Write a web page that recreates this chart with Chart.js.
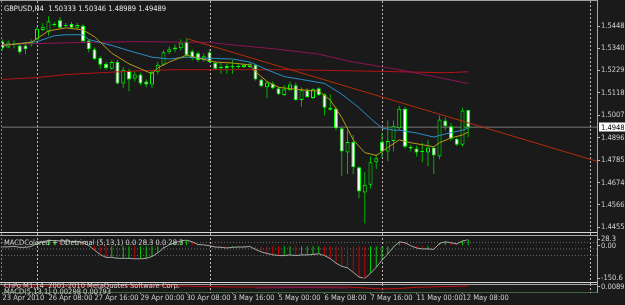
<!DOCTYPE html>
<html><head><meta charset="utf-8">
<script src="https://cdn.jsdelivr.net/npm/chart.js@4.4.1/dist/chart.umd.min.js"></script>
<style>
html,body{margin:0;padding:0;background:#1a1a1a;width:625px;height:305px;overflow:hidden;position:relative}
canvas{position:absolute;left:0}
#c1{top:0}#c2{top:234px}#c3{top:278px}
</style></head><body>
<canvas id="c1" width="625" height="234" style="width:625px;height:234px"></canvas>
<canvas id="c2" width="625" height="50" style="width:625px;height:50px"></canvas>
<canvas id="c3" width="625" height="27" style="width:625px;height:27px"></canvas>
<script>
// ---------- DATA (H4 bars, index 0 = 23 Apr 2010 00:00) ----------
const symbolName = 'GBPUSD,H4';
const open = [1.5372,1.5343,1.5363,1.5353,1.5353,1.5358,1.5382,1.5430,1.5421,1.5459,
 1.5478,1.5454,1.5459,1.5440,1.5449,1.5377,1.5334,1.5291,1.5262,1.5238,
 1.5271,1.5165,1.5228,1.5189,1.5209,1.5175,1.5160,1.5223,1.5257,1.5319,
 1.5334,1.5339,1.5372,1.5324,1.5315,1.5281,1.5319,1.5266,1.5247,1.5252,
 1.5247,1.5252,1.5247,1.5247,1.5257,1.5185,1.5146,1.5165,1.5141,1.5108,
 1.5132,1.5156,1.5083,1.5132,1.5093,1.5141,1.5112,1.5045,1.5040,1.4944,
 1.4823,1.4876,1.4751,1.4626,1.4664,1.4775,1.4876,1.4828,1.4881,1.4944,
 1.5040,1.4852,1.4843,1.4828,1.4823,1.4848,1.4804,1.4982,1.4953,1.4891,
 1.4862,1.50333];
const high = [1.5382,1.5377,1.5377,1.5363,1.5363,1.5382,1.5445,1.5464,1.5498,1.5469,
 1.5493,1.5464,1.5469,1.5464,1.5459,1.5382,1.5343,1.5300,1.5271,1.5281,
 1.5281,1.5247,1.5238,1.5223,1.5218,1.5185,1.5233,1.5271,1.5329,1.5348,
 1.5358,1.5382,1.5387,1.5334,1.5324,1.5315,1.5334,1.5276,1.5271,1.5262,
 1.5281,1.5262,1.5262,1.5271,1.5262,1.5189,1.5175,1.5175,1.5151,1.5156,
 1.5175,1.5170,1.5146,1.5141,1.5141,1.5146,1.5117,1.5112,1.5050,1.4953,
 1.4934,1.4910,1.4756,1.4727,1.4804,1.4814,1.4920,1.4982,1.4982,1.5055,
 1.5050,1.4862,1.4857,1.4872,1.4886,1.4852,1.5006,1.4997,1.4968,1.4896,
 1.5045,1.50346];
const low = [1.5329,1.5339,1.5339,1.5310,1.5310,1.5348,1.5377,1.5425,1.5401,1.5445,
 1.5435,1.5440,1.5435,1.5435,1.5368,1.5319,1.5281,1.5238,1.5233,1.5233,
 1.5160,1.5141,1.5127,1.5175,1.5156,1.5146,1.5141,1.5209,1.5252,1.5310,
 1.5319,1.5329,1.5295,1.5281,1.5271,1.5271,1.5266,1.5233,1.5213,1.5213,
 1.5213,1.5238,1.5242,1.5242,1.5180,1.5146,1.5093,1.5136,1.5108,1.5103,
 1.5127,1.5079,1.5050,1.5093,1.5088,1.5103,1.5006,1.5031,1.4934,1.4708,
 1.4717,1.4717,1.4597,1.4472,1.4645,1.4742,1.4799,1.4780,1.4828,1.4934,
 1.4843,1.4828,1.4804,1.4775,1.4756,1.4717,1.4790,1.4934,1.4881,1.4857,
 1.4852,1.48989];
const close = [1.5339,1.5368,1.5358,1.5319,1.5334,1.5372,1.5435,1.5445,1.5473,1.5454,
 1.5440,1.5449,1.5440,1.5454,1.5372,1.5334,1.5286,1.5257,1.5242,1.5271,
 1.5165,1.5233,1.5185,1.5209,1.5165,1.5160,1.5223,1.5257,1.5319,1.5334,
 1.5343,1.5368,1.5305,1.5291,1.5281,1.5300,1.5271,1.5238,1.5242,1.5242,
 1.5252,1.5247,1.5257,1.5262,1.5185,1.5151,1.5170,1.5141,1.5112,1.5136,
 1.5160,1.5083,1.5132,1.5098,1.5136,1.5108,1.5045,1.5035,1.4944,1.4828,
 1.4876,1.4751,1.4631,1.4664,1.4775,1.4795,1.4828,1.4881,1.4953,1.5040,
 1.4852,1.4843,1.4823,1.4826,1.4848,1.4809,1.4987,1.4953,1.4891,1.4862,
 1.5031,1.49489];

// moving averages (bar index / price)
const fastX = [0,5,8,11,14,16,19,22,24,26,27,29,32,34,37,40,43,44,46,48,51,55,57,59,61,63,65,67,69,71,73,75,76,78,80,81];
const fastY = [1.5353,1.5368,1.5425,1.5440,1.5430,1.5396,1.5315,1.5262,1.5238,1.5213,1.5242,1.5271,1.5305,1.5291,1.5271,1.5266,1.5257,1.5223,1.5175,1.5146,1.5136,1.5127,1.5083,1.4997,1.4886,1.4823,1.4809,1.4848,1.4886,1.4872,1.4862,1.4852,1.4872,1.4896,1.4910,1.4925];
const slowX = [0,6,9,11,14,15,19,23,26,29,32,34,40,43,46,49,52,56,59,62,64,66,68,69,72,75,77,80,81];
const slowY = [1.5353,1.5372,1.5401,1.5406,1.5406,1.5382,1.5353,1.5319,1.5295,1.5286,1.5295,1.5291,1.5286,1.5271,1.5233,1.5199,1.5185,1.5165,1.5112,1.5045,1.4992,1.4944,1.4934,1.4934,1.4920,1.4900,1.4915,1.4934,1.4944];
const magX = [0,14,23,36,41,48,55,61,69,75,81];
const magY = [1.5358,1.5368,1.5372,1.5368,1.5353,1.5334,1.5310,1.5271,1.5233,1.5199,1.5165];
const redX = [0,6,11,17,24,30,50,69,77,81];
const redY = [1.5185,1.5194,1.5209,1.5218,1.5228,1.5233,1.5233,1.5223,1.5218,1.5223];
const trendX = [32,103.39];
const trendY = [1.5387,1.4780];
const separatorBars = [6,36,66,102.17];

const priceTicks = [1.5448,1.5340,1.5229,1.5118,1.5007,1.4896,1.4785,1.4674,1.4566,1.4455];

// MACD (5,13,1)
const macd = [-5.5,-5.5,-3.4,-7.6,-7.6,-3.4,9.2,17.6,23.9,23.9,
 21.8,21.8,19.7,19.7,13.4,0.8,-20.3,-41.3,-53.9,-53.9,
 -58.1,-58.1,-58.1,-60.2,-60.2,-58.1,-49.7,-32.9,-11.8,5.0,
 13.4,21.8,26.0,17.6,5.0,3.7,-0.5,-6.4,-7.6,-10.6,
 -7.6,-6.4,-6.4,-3.4,-17.3,-28.7,-35.8,-41.3,-45.5,-45.5,
 -42.5,-45.5,-42.5,-42.5,-40.0,-37.1,-45.5,-59.4,-80.4,-94.7,
 -101.4,-122.4,-143.5,-150.6,-126.6,-98.9,-66.5,-38.3,-6.4,17.6,
 13.4,-0.5,-10.6,-14.8,-14.8,-17.3,10.4,17.6,13.4,7.9,
 21.8,28.3];
const macdTicks = [28.3,0,-150.6];
const macdLevels = [15,-15,-45];

// bottom mini window
const miniX = [0,15,30,40,60,66,69,72,81];
const miniY = [0.00943,0.00943,0.00943,0.00886,0.00886,0.00771,0.00800,0.00869,0.00943];
const miniPX = [44,52,60];
const miniPY = [0.00829,0.00857,0.00829];
const miniTicks = [0.00898];

const timeTickBars = [0,8,16,24,32,40,48,56,64,72,80];
const timeLabels = ['23 Apr 2010','26 Apr 08:00','27 Apr 16:00','29 Apr 00:00','30 Apr 08:00','3 May 16:00','5 May 00:00','6 May 08:00','7 May 16:00','11 May 00:00','12 May 08:00'];

// ---------- RENDER ----------
const FONT = "'Liberation Sans Narrow','DejaVu Sans Condensed','Liberation Sans',sans-serif";
const FS = 7.5;
const TXT = '#d0d0d0';
const XMIN = -0.087, XMAX = 103.39;
const YMIN = 1.44477, YMAX = 1.55506;
const bars = open.map((_, i) => i);
const N = open.length - 1;

Chart.defaults.font.family = FONT;
Chart.defaults.font.size = FS;
Chart.defaults.animation = false;

const xScale = () => ({type:'linear', min:XMIN, max:XMAX, display:false, offset:false, grid:{display:false}});
function yAxis(min, max, tickVals, fmt){
  return {
    position:'right', min, max, offset:false,
    afterFit: a => { a.width = 28; },
    afterBuildTicks: a => { a.ticks = tickVals.map(v => ({value:v})); },
    grid:{drawOnChartArea:false, tickLength:3, color:'#b8b8b8'},
    border:{color:'#a8a8a8'},
    ticks:{autoSkip:false, padding:1, color:TXT, font:{family:FONT, size:FS}, callback: fmt}
  };
}
const line = (xs, ys, color, order, extra) => Object.assign({
  type:'line', data: xs.map((x,k)=>({x, y: ys[k]})), borderColor: color, borderWidth:1,
  pointRadius:0, tension:0, fill:false, order
}, extra || {});

function vDash(ctx, x, y0, y1, color){
  ctx.save(); ctx.strokeStyle = color; ctx.lineWidth = 1; ctx.setLineDash([2,2]);
  ctx.beginPath(); ctx.moveTo(Math.round(x)+0.5, y0); ctx.lineTo(Math.round(x)+0.5, y1); ctx.stroke(); ctx.restore();
}
function hLine(ctx, y, x0, x1, color){
  ctx.save(); ctx.strokeStyle = color; ctx.lineWidth = 1;
  ctx.beginPath(); ctx.moveTo(x0, y); ctx.lineTo(x1, y); ctx.stroke(); ctx.restore();
}
function vLine(ctx, x, y0, y1, color){
  ctx.save(); ctx.strokeStyle = color; ctx.lineWidth = 1;
  ctx.beginPath(); ctx.moveTo(x, y0); ctx.lineTo(x, y1); ctx.stroke(); ctx.restore();
}
function text(ctx, s, x, y, color, align){
  ctx.save(); ctx.font = FS + 'px ' + FONT; ctx.fillStyle = color; ctx.textAlign = align || 'left';
  ctx.textBaseline = 'alphabetic'; ctx.fillText(s, x, y); ctx.restore();
}
const SEP = '#c8b4b4';

// ----- main price window -----
const mainPlugin = {
  id:'mainDeco',
  beforeDatasetsDraw(chart){
    const ctx = chart.ctx, xs = chart.scales.x;
    separatorBars.forEach(b => vDash(ctx, xs.getPixelForValue(b), 1, 234, SEP));
    vDash(ctx, 1, 1, 234, '#808080');
  },
  afterDraw(chart){
    const ctx = chart.ctx, ys = chart.scales.y;
    hLine(ctx, 0.5, 0, 598, '#a0a0a0');
    hLine(ctx, 232.5, 0, 598, '#d8d8d8');
    vLine(ctx, 597.5, 0, 234, '#a8a8a8');
    const f = v => v.toFixed(5);
    text(ctx, symbolName + '  ' + f(open[N]) + ' ' + f(high[N]) + ' ' + f(low[N]) + ' ' + f(close[N]), 4, 10.5, '#e4e4e4');
    const yb = Math.round(ys.getPixelForValue(close[N]));
    ctx.fillStyle = '#ffffff'; ctx.fillRect(599, yb - 4.5, 26, 9);
    text(ctx, f(close[N]), 601, yb + 3, '#000000');
  }
};
new Chart(document.getElementById('c1'), {
  type:'bar',
  data:{datasets:[
    line(trendX, trendY, '#b42d0a', 1),
    line(fastX, fastY, '#b89a14', 2),
    line(slowX, slowY, '#2a90c8', 3),
    line(magX, magY, '#8c1455', 4),
    line(redX, redY, '#b41414', 4),
    {type:'bar', data: bars.map(i => ({x:i, y:[open[i], close[i]]})), barThickness:4, grouped:false,
     borderWidth:1, borderColor:'#00ff00', borderSkipped:false, minBarLength:1, inflateAmount:0,
     backgroundColor: bars.map(i => close[i] < open[i] ? '#ffffff' : '#1a1a1a'), order:9},
    {type:'bar', data: bars.map(i => ({x:i, y:[low[i], high[i]]})), barThickness:1, grouped:false,
     borderWidth:0, inflateAmount:0, backgroundColor:'#00b400', order:10},
    line([XMIN, XMAX], [close[N], close[N]], '#7a7a7a', 20)
  ]},
  options:{
    responsive:false, devicePixelRatio:1, animation:false,
    layout:{padding:{left:2, top:2, bottom:3, right:0}},
    plugins:{legend:{display:false}, tooltip:{enabled:false}},
    scales:{ x: xScale(), y: yAxis(YMIN, YMAX, priceTicks, v => v.toFixed(5)) }
  },
  plugins:[mainPlugin]
});

// ----- MACD window -----
const macdColors = macd.map((v,i) => (i > 0 && v >= macd[i-1]) ? '#00c800' : '#c00000');
const macdPlugin = {
  id:'macdDeco',
  beforeDatasetsDraw(chart){
    const ctx = chart.ctx, xs = chart.scales.x;
    separatorBars.forEach(b => vDash(ctx, xs.getPixelForValue(b), 0, 50, SEP));
    vDash(ctx, 1, 0, 50, '#808080');
  },
  afterDraw(chart){
    const ctx = chart.ctx;
    hLine(ctx, 1.5, 0, 598, '#a8a8a8');
    hLine(ctx, 48.5, 0, 598, '#d8d8d8');
    vLine(ctx, 597.5, 0, 50, '#a8a8a8');
    text(ctx, 'MACDColored + DDetrimal (5,13,1) 0.0 ' + macd[N].toFixed(1) + ' 0.0 ' + macd[N].toFixed(1), 4, 11, TXT);
  }
};
new Chart(document.getElementById('c2'), {
  type:'bar',
  data:{datasets:[
    line(bars, macd, '#a8a8a8', 1),
    {type:'bar', data: bars.map(i => ({x:i, y:macd[i]})), barThickness:1, grouped:false, borderWidth:0,
     inflateAmount:0, backgroundColor: macdColors, order:5},
    ...macdLevels.map(L => line([XMIN, XMAX], [L, L], '#6a6a6a', 9, {borderDash:[1,2]}))
  ]},
  options:{
    responsive:false, devicePixelRatio:1, animation:false,
    layout:{padding:{left:2, top:3.5, bottom:4, right:0}},
    plugins:{legend:{display:false}, tooltip:{enabled:false}},
    scales:{ x: xScale(), y: yAxis(-150.6, 28.3, macdTicks, v => v === 0 ? '0.00' : v.toFixed(1)) }
  },
  plugins:[macdPlugin]
});

// ----- bottom mini window + time axis -----
const miniPlugin = {
  id:'miniDeco',
  beforeDatasetsDraw(chart){
    const ctx = chart.ctx, xs = chart.scales.x;
    separatorBars.forEach(b => vDash(ctx, xs.getPixelForValue(b), 6, 15, SEP));
  },
  afterDraw(chart){
    const ctx = chart.ctx;
    hLine(ctx, 6.5, 0, 598, '#a8a8a8');
    vLine(ctx, 597.5, 6, 15, '#a8a8a8');
    text(ctx, 'ChPo M1,14  2001-2010 MetaQuotes Software Corp.', 4, 9.5, TXT);
    text(ctx, 'MACD(5,13,1) 0.00298 0.00793', 4, 15.5, TXT);
  }
};
new Chart(document.getElementById('c3'), {
  type:'line',
  data:{datasets:[
    line(miniPX, miniPY, '#7a1a5a', 1),
    line(miniX, miniY, '#c01010', 2)
  ]},
  options:{
    responsive:false, devicePixelRatio:1, animation:false,
    layout:{padding:{left:2, top:7, bottom:0, right:0}},
    plugins:{legend:{display:false}, tooltip:{enabled:false}},
    scales:{
      x:{type:'linear', min:XMIN, max:XMAX, offset:false, position:'bottom',
        afterFit: a => { a.height = 13; },
        afterBuildTicks: a => { a.ticks = timeTickBars.map(v => ({value:v})); },
        grid:{drawOnChartArea:false, tickLength:2, color:'#a0a0a0'},
        border:{color:'#3c6a3c'},
        ticks:{autoSkip:false, maxRotation:0, minRotation:0, align:'start', padding:0, color:TXT,
          font:{family:FONT, size:FS}, callback: v => timeLabels[timeTickBars.indexOf(v)]}},
      y: yAxis(0.0060, 0.0100, miniTicks, v => v.toFixed(5))
    }
  },
  plugins:[miniPlugin]
});
</script></body></html>
